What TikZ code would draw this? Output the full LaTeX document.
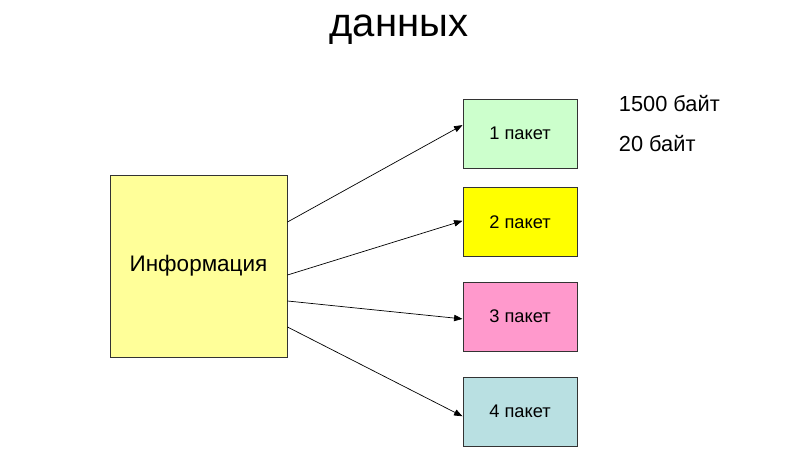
\documentclass[tikz,border=0pt]{standalone}
\usepackage{fontspec}
\setmainfont{Liberation Sans}
\usepackage{xcolor}
\usetikzlibrary{arrows.meta,positioning}
\definecolor{infofill}{HTML}{FFFF99}
\definecolor{pack1}{HTML}{CCFFCC}
\definecolor{pack2}{HTML}{FFFF00}
\definecolor{pack3}{HTML}{FF99CC}
\definecolor{pack4}{HTML}{B9E0E2}
\definecolor{edge}{HTML}{333333}

\begin{document}
\begin{tikzpicture}[
  x=1cm,
  y=1cm,
  bigbox/.style={draw=edge, line width=0.7pt, fill=infofill, minimum width=4.425cm, minimum height=4.55cm, inner sep=0pt},
  packbox/.style={draw=edge, line width=0.7pt, minimum width=2.85cm, minimum height=1.725cm, inner sep=0pt, font=\fontsize{13}{15}\selectfont},
  sendarrow/.style={draw=black, line width=0.5pt, -{Triangle[length=6pt, width=4.5pt]}},
  every node/.style={text=black}
]
\useasboundingbox (0,0) rectangle (20,11.25);
\node[font=\fontsize{28.5}{32}\selectfont] (title) at (9.975,10.5) {данных};

\node[bigbox, font=\fontsize{16}{19}\selectfont] (info) at (4.9625,4.6) {Информация};

\node[packbox, fill=pack1] (p1) at (13.0,7.9125) {1 пакет};
\node[packbox, fill=pack2] (p2) at (13.0,5.7) {2 пакет};
\node[packbox, fill=pack3] (p3) at (13.0,3.3375) {3 пакет};
\node[packbox, fill=pack4] (p4) at (13.0,0.9625) {4 пакет};

\node[font=\fontsize{15.5}{18}\selectfont, anchor=west] (size1) at (15.35,8.65) {1500 байт};
\node[font=\fontsize{15.5}{18}\selectfont, anchor=west] (size2) at (15.35,7.65) {20 байт};

\draw[sendarrow] ([yshift=1.1cm]info.east) -- ([yshift=0.21cm]p1.west);
\draw[sendarrow] ([yshift=-0.225cm]info.east) -- ([yshift=0.03cm]p2.west);
\draw[sendarrow] ([yshift=-0.875cm]info.east) -- ([yshift=-0.06cm]p3.west);
\draw[sendarrow] ([yshift=-1.525cm]info.east) -- ([yshift=-0.12cm]p4.west);
\end{tikzpicture}
\end{document}
